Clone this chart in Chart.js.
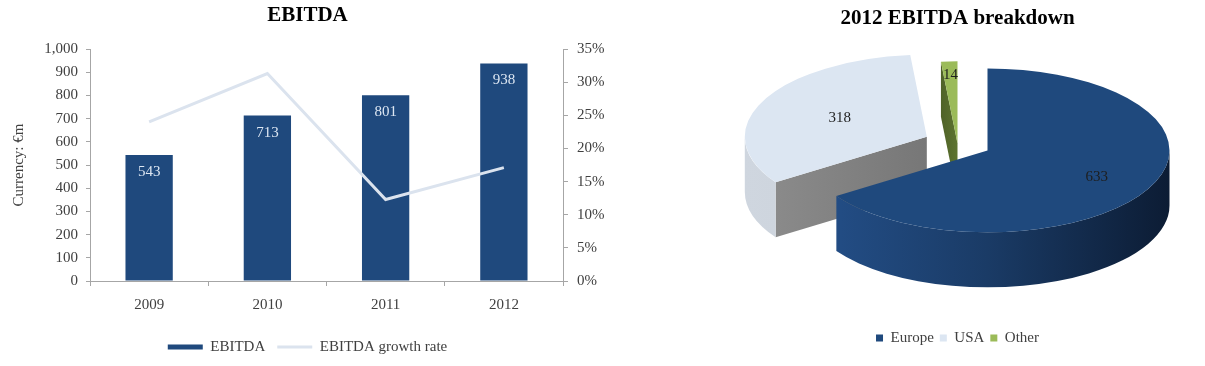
<!DOCTYPE html>
<html><head><meta charset="utf-8">
<script src="https://cdn.jsdelivr.net/npm/chart.js@4.4.1/dist/chart.umd.min.js"></script>
<style>
html,body{margin:0;padding:0;background:#fff;}
#c1{position:absolute;left:0;top:0;}
#c2{position:absolute;left:710px;top:0;}
</style></head><body>
<canvas id="c1" width="615" height="366"></canvas>
<canvas id="c2" width="495" height="366"></canvas>
<script>
// ---- data ----
const years = ['2009', '2010', '2011', '2012'];
const ebitda = [543, 713, 801, 938];
const growthRate = [24.0, 31.3, 12.3, 17.1];
const valueTicks = [0, 100, 200, 300, 400, 500, 600, 700, 800, 900, 1000];
const pctTicks = [0, 5, 10, 15, 20, 25, 30, 35];
const regions = ['Europe', 'USA', 'Other'];
const breakdown2012 = [633, 318, 14];

Chart.defaults.font.family = '"Liberation Serif", "Times New Roman", serif';
Chart.defaults.font.size = 15;
Chart.defaults.color = '#404040';

const AXIS = '#a6a6a6';

const barLabels = {
  id: 'barLabels',
  afterDatasetsDraw(chart, args, opts) {
    const ctx = chart.ctx;
    const meta = chart.getDatasetMeta(0);
    const vals = chart.data.datasets[0].data;
    ctx.save();
    ctx.font = '15px "Liberation Serif", serif';
    ctx.fillStyle = opts.color;
    ctx.textAlign = 'center';
    ctx.textBaseline = 'middle';
    meta.data.forEach((bar, i) => ctx.fillText(String(vals[i]), bar.x, bar.y + opts.offset));
    ctx.restore();
  }
};

new Chart(document.getElementById('c1'), {
  data: {
    labels: years,
    datasets: [
      { type: 'bar', label: 'EBITDA', data: ebitda, backgroundColor: '#1F497D', borderWidth: 0,
        barPercentage: 0.4, categoryPercentage: 1, yAxisID: 'y', order: 1, pointStyle: 'rect' },
      { type: 'line', label: 'EBITDA growth rate', data: growthRate, borderColor: '#dbe3ee',
        backgroundColor: '#dbe3ee', borderWidth: 3, pointRadius: 0, tension: 0, yAxisID: 'y2', order: 0,
        pointStyle: 'line' }
    ]
  },
  options: {
    responsive: false, animation: false,
    layout: { padding: { bottom: 1.5 } },
    plugins: {
      title: { display: true, text: 'EBITDA', color: '#000', font: { size: 21, weight: 'bold' },
               padding: { top: 3.4, bottom: 20.4 } },
      legend: { position: 'bottom',
        labels: { usePointStyle: true, pointStyleWidth: 35, boxHeight: 5, padding: 12, color: '#404040',
                  font: { size: 15 }, sort: (a, b) => a.datasetIndex - b.datasetIndex } },
      tooltip: { enabled: false },
      barLabels: { color: '#dce6f2', offset: 17 }
    },
    scales: {
      x: {
        grid: { display: true, drawOnChartArea: false, drawTicks: true, tickLength: 5, color: AXIS, offset: true },
        border: { color: AXIS },
        ticks: { padding: 10, color: '#404040' },
        afterFit: s => { s.height = 46.5; }
      },
      y: {
        position: 'left', min: 0, max: 1000,
        afterBuildTicks: s => { s.ticks = valueTicks.map(v => ({ value: v })); },
        grid: { drawOnChartArea: false, tickLength: 4, color: AXIS },
        border: { color: AXIS },
        ticks: { padding: 8, color: '#404040' },
        title: { display: true, text: 'Currency: €m', color: '#404040', font: { size: 15 }, padding: { top: 10, bottom: 0 } },
        afterFit: s => { s.width = 90; }
      },
      y2: {
        position: 'right', min: 0, max: 35,
        afterBuildTicks: s => { s.ticks = pctTicks.map(v => ({ value: v })); },
        grid: { drawOnChartArea: false, tickLength: 5, color: AXIS },
        border: { color: AXIS },
        ticks: { padding: 9, color: '#404040', callback: v => v + '%' },
        afterFit: s => { s.width = 52; }
      }
    }
  },
  plugins: [barLabels]
});

// ---- 3D pie ----
const pie3d = {
  id: 'pie3d',
  beforeDatasetsDraw(chart, args, opts) {
    const ctx = chart.ctx;
    const meta = chart.getDatasetMeta(0);
    const vals = chart.data.datasets[0].data;
    const k = opts.tilt, depth = opts.depth;
    const geo = [];
    meta.data.forEach((arc, i) => {
      const a0 = arc.startAngle, a1 = arc.endAngle, R = arc.outerRadius;
      const mid = (a0 + a1) / 2;
      const off = opts.explode[i];
      const cx = arc.x + off * Math.cos(mid);
      const cy = arc.y - opts.lift + off * k * Math.sin(mid);
      geo[i] = { a0, a1, R, mid, cx, cy };
    });
    ctx.save();
    opts.order.forEach(i => {
      const { a0, a1, R, cx, cy } = geo[i];
      const st = opts.styles[i];
      const face = (a) => {
        const px = cx + R * Math.cos(a), py = cy + k * R * Math.sin(a);
        ctx.beginPath();
        ctx.moveTo(cx, cy); ctx.lineTo(px, py); ctx.lineTo(px, py + depth); ctx.lineTo(cx, cy + depth);
        ctx.closePath();
        const g = ctx.createLinearGradient(Math.min(cx, px), 0, Math.max(cx, px), 0);
        g.addColorStop(0, st.cut[0]); g.addColorStop(1, st.cut[1]);
        ctx.fillStyle = g; ctx.fill();
      };
      if (Math.cos(a0) < -1e-6) face(a0);
      if (Math.cos(a1) > 1e-6) face(a1);
      const s = Math.max(a0, 0), e = Math.min(a1, Math.PI);
      if (e > s) {
        ctx.beginPath();
        ctx.ellipse(cx, cy, R, k * R, 0, s, e);
        ctx.ellipse(cx, cy + depth, R, k * R, 0, e, s, true);
        ctx.closePath();
        const g = ctx.createLinearGradient(cx - R, 0, cx + R, 0);
        st.wall.forEach((c, j) => g.addColorStop(j / (st.wall.length - 1 || 1), c));
        ctx.fillStyle = g; ctx.fill();
      }
      ctx.beginPath();
      ctx.moveTo(cx, cy);
      ctx.ellipse(cx, cy, R, k * R, 0, a0, a1);
      ctx.closePath();
      ctx.fillStyle = st.top; ctx.fill();
    });
    ctx.font = '15px "Liberation Serif", serif';
    ctx.fillStyle = opts.labelColor;
    ctx.textAlign = 'center'; ctx.textBaseline = 'middle';
    geo.forEach((g, i) => {
      const r = g.R * opts.labelRadius[i];
      ctx.fillText(String(vals[i]), g.cx + r * Math.cos(g.mid), g.cy + k * r * Math.sin(g.mid));
    });
    ctx.restore();
    return false;
  }
};

new Chart(document.getElementById('c2'), {
  type: 'pie',
  data: {
    labels: regions,
    datasets: [{ data: breakdown2012, backgroundColor: ['#1F497D', '#DCE6F2', '#9BBB59'], borderWidth: 0, radius: 182 }]
  },
  options: {
    responsive: false, animation: false,
    layout: { padding: { bottom: 10.5 } },
    plugins: {
      title: { display: true, text: '2012 EBITDA breakdown', color: '#000', font: { size: 21, weight: 'bold' },
               padding: { top: 6.4, bottom: 5.4 } },
      legend: { position: 'bottom', labels: { boxWidth: 7, boxHeight: 7, padding: 6, color: '#404040', font: { size: 15 } } },
      tooltip: { enabled: false },
      pie3d: {
        tilt: 0.45, depth: 55, lift: 37.5,
        explode: [34, 34, 0],
        order: [2, 1, 0],
        labelRadius: [0.68, 0.53, 0.83],
        labelColor: '#1e1e1e',
        styles: [
          { top: '#1F497D', wall: ['#24508a', '#1a3b66', '#0c1c34'], cut: ['#17365e', '#17365e'] },
          { top: '#DCE6F2', wall: ['#cfd6df', '#c3cad3'], cut: ['#8a8a8a', '#777777'] },
          { top: '#9BBB59', wall: ['#7d9a45', '#7d9a45'], cut: ['#4f6228', '#5d7430'] }
        ]
      }
    }
  },
  plugins: [pie3d]
});
</script>
</body></html>
